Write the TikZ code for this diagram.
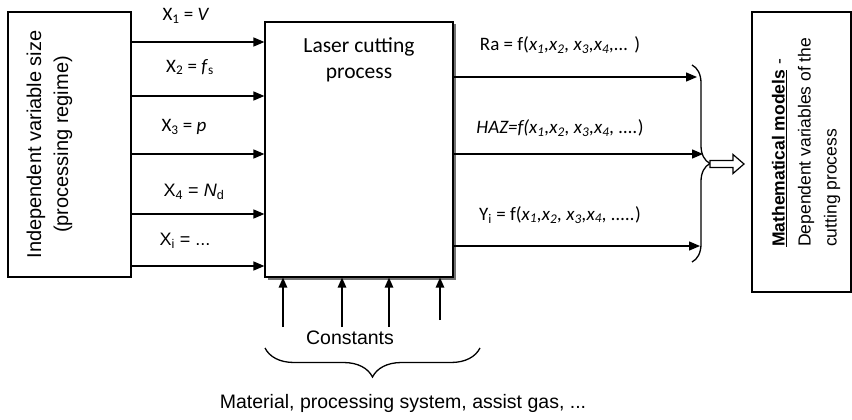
\documentclass[tikz,border=0pt]{standalone}
\usepackage{fontspec}
\setmainfont{Liberation Sans}
\newfontfamily\calib{Carlito}
\usetikzlibrary{arrows.meta,decorations.pathreplacing,shadows}
\begin{document}
\begin{tikzpicture}[x=1pt,y=-1pt,
  box/.style={draw, line width=1.2pt, inner sep=0pt, fill=white},
  arr/.style={line width=1.4pt, -{Triangle[length=11pt,width=9pt]}},
  lab/.style={font=\calib\fontsize{19}{22}\selectfont, inner sep=0pt},
  alab/.style={font=\fontsize{18}{22}\selectfont, inner sep=0pt},
  big/.style={font=\fontsize{19.5}{26}\selectfont, inner sep=0pt},
  bracedeco/.style={decorate, decoration={brace, amplitude=#1, aspect=0.5}, line width=1.3pt}
]
\useasboundingbox (0,0) rectangle (852,420);

% boxes
\node[box, minimum width=123pt, minimum height=265pt] (L) at (69.5,144.5) {};
\node[rotate=90, align=center, font=\fontsize{20}{27}\selectfont, inner sep=0pt] (Lt) at (49.5,144.5)
  {Independent variable size\\(processing regime)};

\node[box, minimum width=188pt, minimum height=255pt,
  drop shadow={shadow xshift=2.5pt, shadow yshift=-2.5pt, fill=black!55, opacity=1}] (C) at (359,149.5) {};
\node[align=center, font=\calib\fontsize{21.5}{26}\selectfont, inner sep=0pt] (Ct) at (359,60)
  {Laser cutting\\process};

\node[box, minimum width=99pt, minimum height=280pt] (R) at (801.5,152) {};
\node[rotate=90, anchor=west, align=left, inner sep=0pt, font=\fontsize{17.5}{26}\selectfont] (Rt) at (806,247)
  {\underline{\textbf{Mathematical models}} -\\Dependent variables of the\\cutting process};

% input arrows
\foreach \yy in {42,96,154,214,266}
  \draw[arr] (L.east |- 0,\yy) -- (C.west |- 0,\yy);

\node[lab] (x1) at (186,16) {X\textsubscript{1} = \textit{V}};
\node[lab] (x2) at (190,67) {X\textsubscript{2} = \textit{f}\textsubscript{s}};
\node[lab] (x3) at (184,127) {X\textsubscript{3} = \textit{p}};
\node[alab] (x4) at (194,192) {X\textsubscript{4} = \textit{N}\textsubscript{d}};
\node[alab] (xi) at (185,241) {X\textsubscript{i} = ...};

% output arrows
\coordinate (o1) at (697,77);
\coordinate (o2) at (703,154);
\coordinate (o3) at (700,246);
\draw[arr] (C.east |- o1) -- (o1);
\draw[arr] (C.east |- o2) -- (o2);
\draw[arr] (C.east |- o3) -- (o3);

\node[lab] (ra) at (560,45) {Ra = f(\textit{x\textsubscript{1},x\textsubscript{2}, x\textsubscript{3},x\textsubscript{4},...} )};
\node[lab] (haz) at (560,128) {\textit{HAZ=f(x\textsubscript{1},x\textsubscript{2}, x\textsubscript{3},x\textsubscript{4}, ....})};
\node[lab] (yi) at (560,215) {Y\textsubscript{i} = f(\textit{x\textsubscript{1},x\textsubscript{2}, x\textsubscript{3},x\textsubscript{4}, .....})};

% right brace and hollow arrow
\coordinate (rb1) at (692,65);
\coordinate (rb2) at (692,262);
\draw[bracedeco=18pt] (rb1) -- (rb2);
\coordinate (btip) at (710,164);
\draw[line width=1.2pt, fill=white, line join=miter] (btip) ++(0,-3.5) -- ++(23,0) -- ++(0,-6) -- ++(11,9.5)
  -- ++(-11,9.5) -- ++(0,-6) -- ++(-23,0) -- cycle;

% constants arrows
\coordinate (c1) at (283,327);
\coordinate (c2) at (342,327);
\coordinate (c3) at (389,327);
\coordinate (c4) at (440,320);
\foreach \c in {c1,c2,c3,c4}
  \draw[line width=1.4pt, -{Triangle[length=10pt,width=8.5pt]}] (\c) -- (\c |- C.south);

\node[big] (const) at (350,338) {Constants};
\coordinate (bb1) at (480,348);
\coordinate (bb2) at (265,348);
\draw[bracedeco=29pt] (bb1) -- (bb2);
\node[big] (mat) at (403,403) {Material, processing system, assist gas, ...};
\end{tikzpicture}
\end{document}
